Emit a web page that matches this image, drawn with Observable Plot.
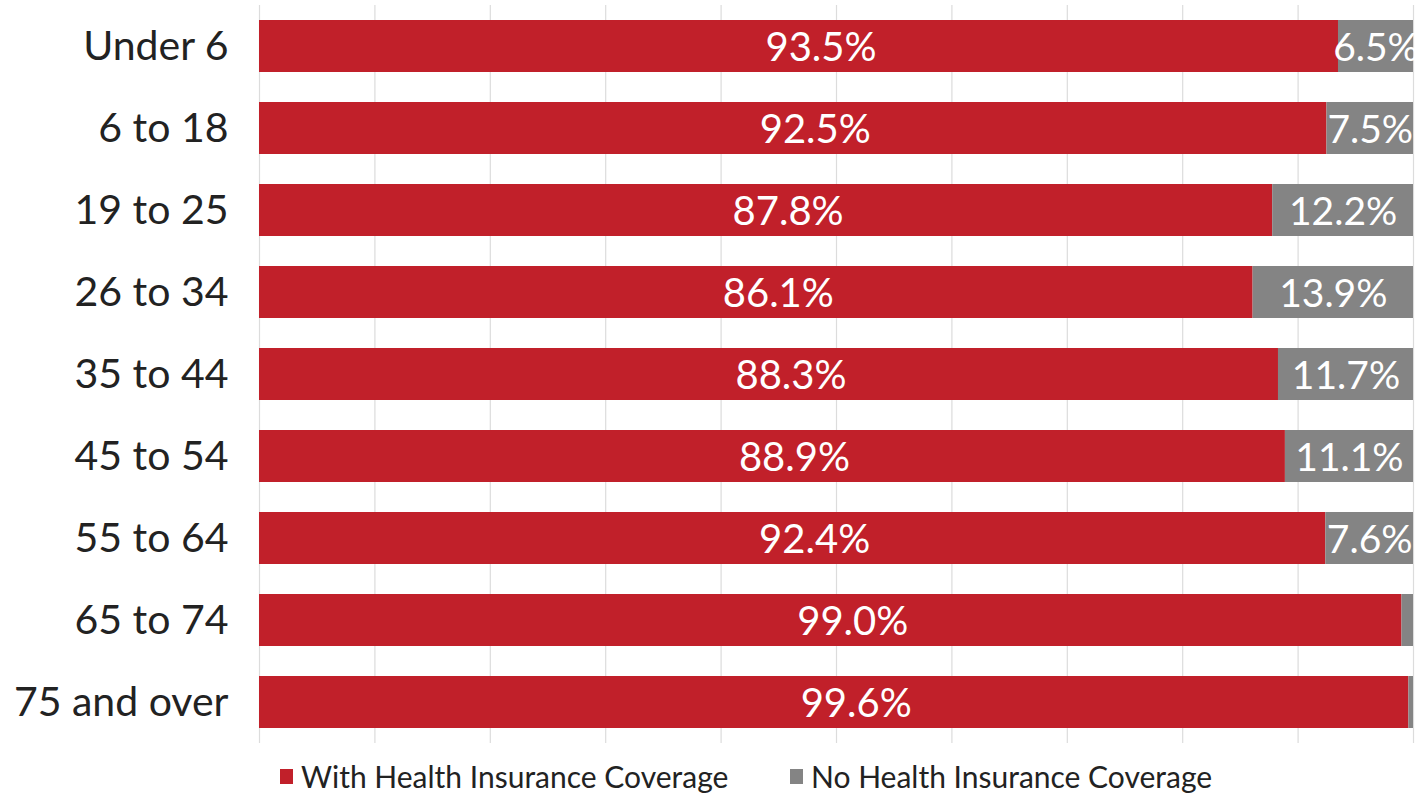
<!DOCTYPE html>
<html>
<head>
<meta charset="utf-8">
<script src="https://cdn.jsdelivr.net/npm/d3@7"></script>
<script src="https://cdn.jsdelivr.net/npm/@observablehq/plot@0.6"></script>
<style>
  html, body { margin: 0; padding: 0; background: #fff; }
  body { width: 1418px; height: 795px; overflow: hidden; font-family: Lato, "Open Sans", sans-serif; }
  #legend { position: relative; height: 40px; font-size: 30px; color: #222; }
  .item { display: flex; align-items: center; position: absolute; }
  .sw { width: 13px; height: 15px; margin-right: 8px; }
</style>
</head>
<body>
<div id="chart"></div>
<div id="legend"></div>
<script>
const categories = ["Under 6", "6 to 18", "19 to 25", "26 to 34", "35 to 44", "45 to 54", "55 to 64", "65 to 74", "75 and over"];
const withCoverage = [93.5, 92.5, 87.8, 86.1, 88.3, 88.9, 92.4, 99.0, 99.6];
const noCoverage = [6.5, 7.5, 12.2, 13.9, 11.7, 11.1, 7.6, 1.0, 0.4];
const seriesNames = ["With Health Insurance Coverage", "No Health Insurance Coverage"];
const seriesColors = ["#C1202A", "#848484"];

const rows = [];
categories.forEach((c, i) => {
  rows.push({cat: c, series: seriesNames[0], value: withCoverage[i]});
  rows.push({cat: c, series: seriesNames[1], value: noCoverage[i]});
});
const fmt = d => d.value.toFixed(1) + "%";

const chart = Plot.plot({
  width: 1418,
  height: 755,
  marginLeft: 259,
  marginRight: 5,
  marginTop: 5,
  marginBottom: 12,
  style: {fontFamily: "Lato, 'Open Sans', sans-serif", background: "#fff"},
  x: {domain: [0, 100], axis: null},
  y: {domain: categories, paddingInner: 0.366, paddingOuter: 0.183, label: null, tickSize: 0, tickPadding: 31},
  color: {domain: seriesNames, range: seriesColors},
  marks: [
    Plot.ruleX(d3.range(0, 101, 10), {stroke: "#dcdcdc", strokeWidth: 1.2}),
    Plot.barX(rows, Plot.stackX({x: "value", y: "cat", fill: "series", order: seriesNames})),
    Plot.textX(rows, Plot.stackX({
      x: "value", y: "cat", z: "series", order: seriesNames,
      text: d => d.series === seriesNames[0] ? fmt(d) : "",
      fill: "white", fontSize: 40, dx: 22, dy: 2
    })),
    Plot.textX(rows, Plot.stackX({
      x: "value", y: "cat", z: "series", order: seriesNames,
      text: d => d.series === seriesNames[1] && d.value >= 5 ? fmt(d) : "",
      fill: "white", fontSize: 39, dx: 0, dy: 2
    })),
    Plot.axisY({tickSize: 0, tickPadding: 31, fontSize: 41, fill: "#222", label: null})
  ]
});
document.getElementById("chart").appendChild(chart);

const legend = document.getElementById("legend");
const lefts = [280, 790];
seriesNames.forEach((name, i) => {
  const item = document.createElement("div");
  item.className = "item";
  item.style.left = lefts[i] + "px";
  item.style.top = "3px";
  const sw = document.createElement("div");
  sw.className = "sw";
  sw.style.background = seriesColors[i];
  const label = document.createElement("span");
  label.textContent = name;
  item.appendChild(sw);
  item.appendChild(label);
  legend.appendChild(item);
});
</script>
</body>
</html>
